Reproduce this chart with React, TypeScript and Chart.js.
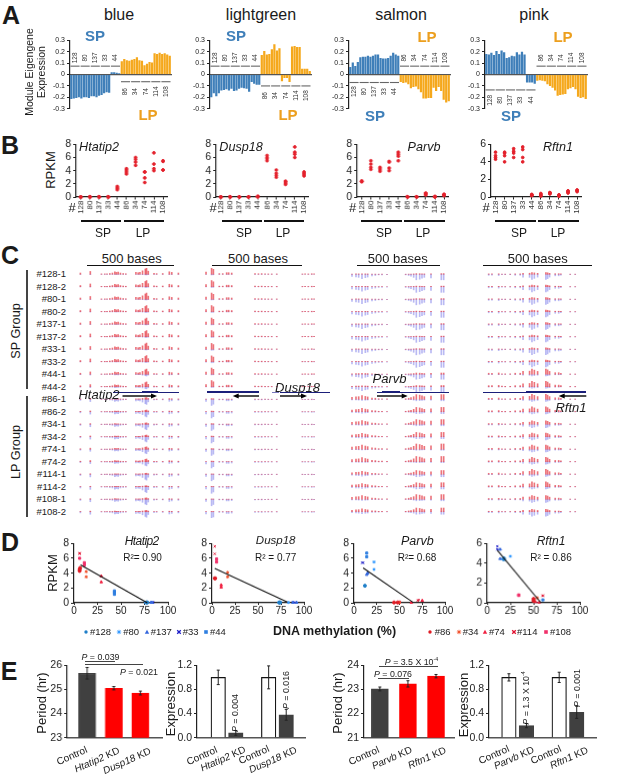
import React, { useEffect, useRef } from 'react';
import { Chart, registerables } from 'chart.js';
Chart.register(...registerables);

const FF = '"Liberation Sans", Arial, sans-serif';
const INK = '#222';
const SP_BLUE = '#3f7fb9';
const LP_ORANGE = '#f5a81c';

// ---------- Panel A ----------
const blueSP = [-.215,-.21,-.205,-.2,-.21,-.2,-.2,-.205,-.19,-.19,-.2,-.185,-.18,-.165,-.155,-.16,.02,.02,.015,.01];
const blueLP = [.115,.135,.125,.12,.13,.135,.15,.125,.12,.08,.095,.11,.105,.185,.18,.19,.18,.185,.175,.165];
const greenSP = [-.2,-.165,-.19,-.165,-.14,-.135,-.13,-.14,-.125,-.145,-.14,-.125,-.115,-.12,-.125,-.15,-.065,-.08,-.09,-.09];
const greenLP = [.17,.205,.175,.18,.22,.265,.21,.23,-.06,-.03,-.03,-.065,.245,.25,.24,.24,.05,.05,.05,.03];
const salmonSP = [.065,.105,.075,.11,.15,.155,.155,.165,.155,.165,.175,.175,.145,.14,.14,.145,.165,.19,.175,.165];
const salmonLP = [-.065,-.075,-.07,-.085,-.12,-.11,-.105,-.13,-.155,-.21,-.21,-.205,-.205,-.115,-.145,-.11,-.145,-.22,-.245,-.235];
const pinkSP = [.18,.175,.19,.17,.205,.18,.21,.195,.145,.15,.165,.16,.195,.175,.2,.175,-.07,-.07,-.07,-.08];
const pinkLP = [-.055,-.05,-.055,-.06,-.085,-.1,-.115,-.14,-.185,-.18,-.175,-.17,-.13,-.12,-.11,-.13,-.195,-.205,-.2,-.215];
const spMice = ['128','80','137','33','44'];
const lpMice = ['86','34','74','114','108'];
const allMice = [...spMice, ...lpMice];

// ---------- Panel B (RPKM per mouse) ----------
const rpkmHtatip2 = [[0,0,0,0],[0,.05,0,0],[0,.05,0,0],[0,0,.05,0],[1.1,1.3,1.4,1.6],[3.5,3.8,4.1,4.3],[4.8,5.3,5.7,6],[2.2,2.9,3.8,3.8],[4,4.3,5,6.7],[4.1,4.1,5.4,5.5]];
const rpkmDusp18 = [[0,0,0,0],[0,.05,0,0],[0,0,.05,0],[0,0,.05,0],[0,.05,.1,.1],[5.5,5.8,6,6.3],[3,3.3,3.6,4.1],[1.9,2.1,2.3,2.4],[6,6.5,6.8,7.6],[3.2,3.4,3.6,3.8]];
const rpkmParvb = [[2.3,2.4,2.4,2.4],[4.2,4.5,5,5.5],[3.9,4.1,4.3,4.5],[4,4.4,5.3,5.4],[5.5,6.2,6.5,6.8],[0,.05,.05,0],[0,.05,.05,0],[.3,.5,.5,.6],[.05,.05,.1,0],[.2,.3,.4,.4]];
const rpkmRftn1 = [[4.3,4.5,4.7,5.1],[4,4.7,5,5.1],[4.5,5,5.2,5.5],[4,4.5,5.4,5.7],[.15,.2,.25,.3],[.1,.2,.3,.4],[.35,.4,.5,.5],[.1,.15,.2,.25],[.45,.55,.65,.7],[.6,.7,.75,.8]];

// ---------- Panel C (CpG sites in bases, relative heights, fraction methylated per sample) ----------
const sampleLabels = ['#128-1','#128-2','#80-1','#80-2','#137-1','#137-2','#33-1','#33-2','#44-1','#44-2','#86-1','#86-2','#34-1','#34-2','#74-1','#74-2','#114-1','#114-2','#108-1','#108-2'];
const sitesHtatip2 = [-38,19,83,102,115,131,146,160,169,179,192,208,223,281,294,304,319,335,342,352,385,400,435,473,487,525];
const heightsHtatip2 = [.2,.45,.06,.06,.08,.12,.2,.4,.3,.35,.2,.12,.08,.3,.25,.3,.55,.85,1,.5,.15,.1,.12,.4,.3,.2];
const methylHtatip2 = [.9,.9,.9,.9,.9,.9,.9,.9,.75,.7,.25,.25,.2,.25,.35,.4,.15,.15,.2,.2];
const sitesDusp18 = [-35,-4,6,39,58,80,91,108,238,257,275,294,312,331,359,502,517,535,554,567];
const heightsDusp18 = [.35,1,.8,.1,.1,.25,.25,.2,.1,.08,.1,.08,.05,.05,.05,.05,.05,.05,.08,.05];
const methylDusp18 = [.9,.9,.9,.9,.9,.9,.85,.85,.9,.9,.1,.1,.1,.1,.1,.1,.05,.05,.05,.05];
const sitesParvb = [-30,-6,10,30,50,64,90,110,130,150,180,292,310,324,340,356,376,390,404,444,506,520];
const heightsParvb = [.35,.45,.5,.7,.55,.45,.25,.2,.1,.1,.06,.1,.2,.3,.5,.9,.8,.65,.5,.6,.9,.9];
const methylParvb = [.1,.1,.1,.1,.1,.1,.1,.1,.2,.2,.75,.7,.75,.7,.85,.85,.6,.65,.75,.6];
const sitesRftn1 = [25,40,71,86,101,124,147,170,183,213,224,235,250,288,296,305,331,347,357,400,423];
const heightsRftn1 = [.2,.2,.25,.1,.08,.08,.2,.2,.55,.6,1,.8,.55,1,.85,.55,.3,.3,.2,.05,.05];
const methylRftn1 = [.25,.25,.25,.25,.25,.25,.2,.25,.75,.8,.7,.7,.5,.55,.6,.65,.7,.7,.55,.35];

// ---------- Panel D (methylation %, RPKM pairs per mouse) ----------
const dHtatip2 = [[[77,.05],[78,.05]],[[76,.05],[77,.05]],[[82,.05],[83,.05]],[[83,.05],[84,.05],[83.5,.05]],[[43,1.15],[43,1.4],[43,1.6]],[[6,4.3],[6,4.5],[6.5,4.7]],[[13,4.2],[13,3.5]],[[29,3.6],[29,2.8]],[[6,6.7],[6,6.6]],[[11,5.4],[11,5.1],[6,6]]];
const dDusp18 = [[[73,.05],[74,.05]],[[83,.05]],[[88,.05],[92,.05]],[[88,.05],[90,.05]],[[73,.05],[74,.05]],[[3,3.3],[3.5,3.3]],[[17,4.1],[17,3.5]],[[10,2.4],[10,2.1]],[[3,7.6],[3,6.6]],[[5,5.9],[5,5.5]]];
const dParvb = [[[12,2.3]],[[22,5.5],[22,4.5]],[[15,4],[14,3.8]],[[9,5.4],[10,5.4]],[[14,6.7],[14,6.2]],[[44,.05],[48,.05]],[[50,.05],[49,.05]],[[63,.05],[75,.3]],[[71,.4],[70,.3]],[[50,.1]]];
const dRftn1 = [[[18,4.5],[18,4.4]],[[25,4.7],[17,4.4]],[[14,5.4],[14,4.45]],[[11,5.7],[11,5.4]],[[60,.3]],[[50,.4],[50,.2]],[[54,.5],[50,.35]],[[56,.05],[52,.1]],[[60,.7],[60,.75]],[[34,.8],[34,.75]]];
const fitHtatip2 = [[7,5.1],[78,0]];
const fitDusp18 = [[3,4.65],[82,.1]];
const fitParvb = [[10,4.7],[65,.05]];
const fitRftn1 = [[11,5.3],[58,0]];
const miceColors = ['#1f7fc8','#3399ff','#3366dd','#1c1cc8','#2f7fe0','#e01b24','#f0502a','#f02040','#e0102f','#f0306a'];
const miceShapes = ['circle','star','triangle','crossRot','rect','circle','star','triangle','crossRot','rect'];

// ---------- Panel E ----------
const periodLabels = ['Control', 'KD1', 'KD2'];
const periodA = [25.67,25.05,24.85];
const periodAErr = [.24,.07,.08];
const periodB = [23.02,23.23,23.55];
const periodBErr = [.08,.13,.07];
const exprA = [1,.08,1,.38];
const exprAErr = [.12,.04,.19,.09];
const exprB = [1,.2,1,.42];
const exprBErr = [.06,.035,.085,.1];

const fontOf = (size: number) => ({ family: FF, size });

function axisY(min: number, max: number, step: number, size: number, fmt: (v: number) => string) {
  return {
    min, max,
    ticks: { stepSize: step, font: fontOf(size), color: INK, padding: 2, autoSkip: false, callback: (v: any) => fmt(Number(v)) },
    grid: { display: true, drawOnChartArea: false, drawTicks: true, tickLength: 3, color: INK },
    border: { display: true, color: INK, width: 1.2 },
  };
}

function ChartBox({ area, m, config }: any) {
  const ref = useRef<HTMLCanvasElement>(null);
  const [l, t, r, b] = area;
  const [mt, mr, mb, ml] = m;
  useEffect(() => {
    const cfg = config();
    cfg.options = cfg.options || {};
    cfg.options.responsive = false;
    cfg.options.animation = false;
    cfg.options.maintainAspectRatio = false;
    cfg.options.layout = { padding: { top: mt, right: mr, left: 0, bottom: 0 } };
    cfg.options.plugins = { legend: { display: false }, tooltip: { enabled: false } };
    cfg.options.scales.x.afterFit = (s: any) => { s.height = mb; };
    cfg.options.scales.y.afterFit = (s: any) => { s.width = ml; };
    const c = new Chart(ref.current as any, cfg);
    return () => c.destroy();
  }, []);
  const w = r - l + ml + mr;
  const h = b - t + mt + mb;
  return <canvas ref={ref} width={w} height={h} style={{ position: 'absolute', left: l - ml, top: t - mt, width: w, height: h }} />;
}

function T({ x, y, size, children, rot = 0, it, b, color, ls, end }: any) {
  return (
    <div style={{
      position: 'absolute', left: x, top: y,
      transform: `translate(${end ? '-100%' : '-50%'},-50%) rotate(${rot}deg)`,
      whiteSpace: 'nowrap', fontSize: size, lineHeight: 1, fontFamily: FF,
      fontStyle: it ? 'italic' : 'normal', fontWeight: b ? 700 : 400,
      color: color || '#1a1a1a', letterSpacing: ls || 0,
    }}>{children}</div>
  );
}

const HL = ({ x1, x2, y, h = 1.3, c = '#111' }: any) => (
  <div style={{ position: 'absolute', left: x1, top: y - h / 2, width: x2 - x1, height: h, background: c }} />
);
const VL = ({ x, y1, y2, w = 1.8, c = '#444' }: any) => (
  <div style={{ position: 'absolute', left: x - w / 2, top: y1, width: w, height: y2 - y1, background: c }} />
);

// Panel A chart
function moduleChart(sp: number[], lp: number[], spLine: number, spText: number, lpLine: number, lpText: number) {
  const vals = [...sp, ...lp];
  const marks = {
    id: 'groupMarks',
    afterDatasetsDraw(chart: any) {
      const { ctx, scales: { x, y } } = chart;
      const draw = (names: string[], off: number, lv: number, tv: number) => {
        names.forEach((name, k) => {
          const a = x.getPixelForValue(off + k * 4) - x.width / 80 + .5;
          const e = x.getPixelForValue(off + k * 4 + 3) + x.width / 80 - .5;
          ctx.save();
          ctx.strokeStyle = '#666';
          ctx.lineWidth = 1.1;
          ctx.beginPath();
          ctx.moveTo(a, y.getPixelForValue(lv));
          ctx.lineTo(e, y.getPixelForValue(lv));
          ctx.stroke();
          ctx.translate((a + e) / 2, y.getPixelForValue(tv));
          ctx.rotate(-Math.PI / 2);
          ctx.fillStyle = '#333';
          ctx.font = `6.5px ${FF}`;
          ctx.textAlign = 'center';
          ctx.textBaseline = 'middle';
          ctx.fillText(name, 0, 0);
          ctx.restore();
        });
      };
      draw(spMice, 0, spLine, spText);
      draw(lpMice, 20, lpLine, lpText);
    },
  };
  return () => ({
    type: 'bar',
    data: {
      labels: vals.map((_, i) => String(i)),
      datasets: [{
        data: vals,
        backgroundColor: vals.map((_, i) => (i < 20 ? SP_BLUE : LP_ORANGE)),
        barPercentage: .88, categoryPercentage: 1,
      }],
    },
    options: {
      scales: {
        x: {
          position: { y: 0 },
          ticks: { display: false },
          grid: { display: false },
          border: { display: true, color: '#555', width: 1.3 },
        },
        y: axisY(-.3, .3, .1, 7, v => (Math.abs(v) < 1e-6 ? '0' : v.toFixed(1))),
      },
    },
    plugins: [marks],
  });
}

// Panel B chart
function rpkmChart(rows: number[][], max: number) {
  return () => ({
    type: 'scatter',
    data: {
      datasets: [{
        data: rows.flatMap((vals, i) => vals.map(v => ({ x: allMice[i], y: v }))),
        backgroundColor: '#e3202b', borderColor: '#e3202b', pointRadius: 1.35, clip: false,
      }],
    },
    options: {
      scales: {
        x: {
          type: 'category', labels: allMice, offset: true,
          ticks: { font: fontOf(8), color: '#333', maxRotation: 90, minRotation: 90, autoSkip: false, padding: 1 },
          grid: { display: true, drawOnChartArea: false, drawTicks: true, tickLength: 2.5, color: INK, offset: false },
          border: { display: true, color: INK, width: 1.2 },
        },
        y: axisY(0, max, 2, 10.5, v => String(v)),
      },
    },
  });
}

// Panel C chart
function trackChart(sites: number[], heights: number[], methyl: number[], xMin: number, xMax: number) {
  const up: any[] = [];
  const down: any[] = [];
  methyl.forEach((frac, row) => {
    sites.forEach((s, i) => {
      up.push({ x: s, y: [row - heights[i] * frac * .55, row] });
      down.push({ x: s, y: [row, row + heights[i] * (1 - frac) * .55] });
    });
  });
  return () => ({
    type: 'bar',
    data: {
      datasets: [
        { data: up, backgroundColor: 'rgba(226,32,44,.62)', barThickness: 1, grouped: false, borderWidth: 0 },
        { data: down, backgroundColor: 'rgba(88,88,226,.42)', barThickness: 1, grouped: false, borderWidth: 0 },
      ],
    },
    options: {
      scales: {
        x: { type: 'linear', min: xMin, max: xMax, display: false, offset: false, grid: { offset: false } },
        y: { type: 'linear', min: -.5, max: 19.5, reverse: true, display: false },
      },
    },
  });
}

// Panel D chart
function methChart(groups: number[][][], fit: number[][], max: number) {
  const xy = (p: number[]) => ({ x: p[0], y: p[1] });
  return () => ({
    type: 'scatter',
    data: {
      datasets: [
        { data: fit.map(xy), showLine: true, pointRadius: 0, borderColor: '#111', borderWidth: 1.1, clip: false },
        ...groups.map((g, i) => ({
          data: g.map(xy),
          pointStyle: miceShapes[i],
          pointRadius: 1.5,
          backgroundColor: miceColors[i],
          borderColor: miceColors[i],
          borderWidth: 1,
          clip: false,
        })),
      ],
    },
    options: {
      scales: {
        x: {
          type: 'linear', min: 0, max: 100,
          ticks: { stepSize: 25, font: fontOf(10), color: INK, padding: 0, autoSkip: false, maxRotation: 0 },
          grid: { display: true, drawOnChartArea: false, drawTicks: true, tickLength: 2, color: INK },
          border: { display: true, color: INK, width: 1.2 },
        },
        y: axisY(0, max, 2, 10.5, v => String(v)),
      },
    },
  });
}

// Panel E chart
function barChart(vals: number[], errs: number[], pos: number[], xMin: number, xMax: number, yMin: number, yMax: number, step: number, thick: number, fills: string[], strokes: string[], fmt: (v: number) => string) {
  const whisk = {
    id: 'errorWhiskers',
    afterDatasetsDraw(chart: any) {
      const { ctx, scales: { y } } = chart;
      const meta = chart.getDatasetMeta(0);
      ctx.save();
      ctx.strokeStyle = '#222';
      ctx.lineWidth = 1;
      vals.forEach((v, i) => {
        const px = meta.data[i].x;
        const a = y.getPixelForValue(v - errs[i]);
        const e = y.getPixelForValue(v + errs[i]);
        ctx.beginPath();
        ctx.moveTo(px, a); ctx.lineTo(px, e);
        ctx.moveTo(px - 1.5, a); ctx.lineTo(px + 1.5, a);
        ctx.moveTo(px - 1.5, e); ctx.lineTo(px + 1.5, e);
        ctx.stroke();
      });
      ctx.restore();
    },
  };
  return () => ({
    type: 'bar',
    data: {
      datasets: [{
        data: vals.map((v, i) => ({ x: pos[i], y: v })),
        backgroundColor: fills, borderColor: strokes, borderWidth: 1.2, barThickness: thick,
      }],
    },
    options: {
      scales: {
        x: {
          type: 'linear', min: xMin, max: xMax, offset: false,
          ticks: { display: false },
          grid: { display: false, offset: false },
          border: { display: true, color: '#555', width: 1.5 },
        },
        y: { ...axisY(yMin, yMax, step, 10.5, fmt), grace: 0 },
      },
    },
    plugins: [whisk],
  });
}

const str = (v: number) => String(v);
const dec = (v: number) => v.toFixed(1);
const DARK = '#404040';

function Marker({ x, y, shape, color }: any) {
  let el: any;
  if (shape === 'circle') el = <circle cx={5} cy={5} r={1.7} fill={color} />;
  else if (shape === 'rect') el = <rect x={3.2} y={3.2} width={3.6} height={3.6} fill={color} />;
  else if (shape === 'triangle') el = <path d="M5 2.8 L7.2 6.8 L2.8 6.8 Z" fill={color} />;
  else if (shape === 'star') el = <path d="M5 2.8V7.2M2.8 5H7.2M3.5 3.5L6.5 6.5M6.5 3.5L3.5 6.5" stroke={color} strokeWidth={.9} />;
  else el = <path d="M3.2 3.2L6.8 6.8M6.8 3.2L3.2 6.8" stroke={color} strokeWidth={1.3} />;
  return <svg width={10} height={10} style={{ position: 'absolute', left: x - 5, top: y - 5 }}>{el}</svg>;
}

const P = () => <i>P</i>;

function Arrow({ x1, x2, y }: any) {
  const dir = x2 > x1 ? 1 : -1;
  return (
    <>
      <line x1={x1} x2={x2 - dir * 3} y1={y} y2={y} stroke="#000" strokeWidth={1.4} />
      <path d={`M${x2} ${y} L${x2 - dir * 6} ${y - 2.6} L${x2 - dir * 6} ${y + 2.6} Z`} fill="#000" />
    </>
  );
}

export default function App() {
  const rowsY = sampleLabels.map((_, i) => 274.3 + i * 12.49);
  const legendBlue = [[86, 90, '#128'], [119.3, 123.3, '#80'], [146.7, 150.7, '#137'], [179.3, 182.7, '#33'], [206, 210, '#44']];
  const legendRed = [[430.3, 434.7, '#86'], [459.3, 462.7, '#34'], [485.3, 489, '#74'], [513.7, 517, '#114'], [546, 550, '#108']];
  const naVy = '#1b1f7a';
  return (
    <div style={{ position: 'absolute', left: 0, top: 0, width: 617, height: 776, background: '#fff', overflow: 'hidden' }}>
      {/* Panel letters */}
      <T x={11} y={15} size={25} b>A</T>
      <T x={10} y={145} size={25} b>B</T>
      <T x={10} y={255} size={25} b>C</T>
      <T x={10} y={542} size={25} b>D</T>
      <T x={9} y={671} size={25} b>E</T>

      {/* Panel A */}
      <ChartBox area={[70, 39.5, 171, 109]} m={[6, 4, 6, 22]} config={moduleChart(blueSP, blueLP, .073, .145, -.063, -.15)} />
      <ChartBox area={[210, 39.5, 311, 109]} m={[6, 4, 6, 22]} config={moduleChart(greenSP, greenLP, .073, .145, -.1, -.185)} />
      <ChartBox area={[349, 39.5, 450, 109]} m={[6, 4, 6, 22]} config={moduleChart(salmonSP, salmonLP, -.07, -.15, .073, .145)} />
      <ChartBox area={[485, 39.5, 587, 109]} m={[6, 4, 6, 22]} config={moduleChart(pinkSP, pinkLP, -.135, -.225, .073, .145)} />
      <T x={119} y={15} size={16}>blue</T>
      <T x={261} y={15} size={16}>lightgreen</T>
      <T x={401} y={15} size={16}>salmon</T>
      <T x={534} y={15} size={16}>pink</T>
      <T x={95} y={35} size={15} b color={SP_BLUE}>SP</T>
      <T x={148} y={114} size={15} b color="#ec9f1e">LP</T>
      <T x={236} y={35} size={15} b color={SP_BLUE}>SP</T>
      <T x={288} y={114} size={15} b color="#ec9f1e">LP</T>
      <T x={427} y={36} size={15} b color="#ec9f1e">LP</T>
      <T x={375} y={115} size={15} b color={SP_BLUE}>SP</T>
      <T x={563} y={36} size={15} b color="#ec9f1e">LP</T>
      <T x={511} y={115} size={15} b color={SP_BLUE}>SP</T>
      <T x={29} y={72} size={10.5} rot={-90}>Module Eigengene</T>
      <T x={41} y={72} size={10.5} rot={-90}>Expression</T>

      {/* Panel B */}
      <ChartBox area={[76.4, 143.7, 168, 197]} m={[8, 6, 24, 18]} config={rpkmChart(rpkmHtatip2, 8)} />
      <ChartBox area={[216, 143.7, 308.5, 197]} m={[8, 6, 24, 18]} config={rpkmChart(rpkmDusp18, 8)} />
      <ChartBox area={[357.4, 143.7, 449.3, 197]} m={[8, 6, 24, 18]} config={rpkmChart(rpkmParvb, 8)} />
      <ChartBox area={[491, 143.7, 582, 197]} m={[8, 6, 24, 18]} config={rpkmChart(rpkmRftn1, 6)} />
      <T x={50} y={170} size={13} rot={-90}>RPKM</T>
      <T x={99} y={147} size={12.6} it>Htatip2</T>
      <T x={241} y={147} size={12.6} it>Dusp18</T>
      <T x={424} y={147} size={12.6} it>Parvb</T>
      <T x={558} y={147} size={12.6} it>Rftn1</T>
      {[72, 213, 352.7, 486].map((x, i) => <T key={i} x={x} y={207} size={13}>#</T>)}
      <HL x1={81} x2={121} y={221} /><HL x1={124} x2={164} y={221} />
      <HL x1={222} x2={262} y={221} /><HL x1={264} x2={304} y={221} />
      <HL x1={361} x2={402} y={221} /><HL x1={404} x2={445} y={221} />
      <HL x1={495} x2={536} y={221} /><HL x1={538} x2={579} y={221} />
      <T x={103} y={233} size={12}>SP</T><T x={143} y={233} size={12}>LP</T>
      <T x={244} y={233} size={12}>SP</T><T x={283} y={233} size={12}>LP</T>
      <T x={384} y={233} size={12}>SP</T><T x={423} y={233} size={12}>LP</T>
      <T x={519} y={233} size={12}>SP</T><T x={558} y={233} size={12}>LP</T>

      {/* Panel C */}
      <ChartBox area={[75, 268, 185, 518]} m={[0, 0, 0, 0]} config={trackChart(sitesHtatip2, heightsHtatip2, methylHtatip2, -69, 563)} />
      <ChartBox area={[200, 268, 320, 518]} m={[0, 0, 0, 0]} config={trackChart(sitesDusp18, heightsDusp18, methylDusp18, -68.6, 600)} />
      <ChartBox area={[345, 268, 450, 518]} m={[0, 0, 0, 0]} config={trackChart(sitesParvb, heightsParvb, methylParvb, -72, 558)} />
      <ChartBox area={[480, 268, 600, 518]} m={[0, 0, 0, 0]} config={trackChart(sitesRftn1, heightsRftn1, methylRftn1, -15, 537)} />
      {sampleLabels.map((s, i) => <T key={s} x={66} y={rowsY[i]} size={9.5} end>{s}</T>)}
      <VL x={26.7} y1={270} y2={389} /><VL x={26.7} y1={396} y2={517} />
      <T x={16} y={331} size={12.7} rot={-90}>SP Group</T>
      <T x={16} y={452} size={12.7} rot={-90}>LP Group</T>
      <T x={131.7} y={258} size={13}>500 bases</T>
      <T x={258} y={258} size={13}>500 bases</T>
      <T x={397.7} y={258} size={13}>500 bases</T>
      <T x={537.7} y={258} size={13}>500 bases</T>
      <HL x1={87} x2={174} y={265.3} />
      <HL x1={212.3} x2={302} y={265.3} />
      <HL x1={357} x2={440.3} y={265.3} />
      <HL x1={483.3} x2={592} y={265.3} />
      <HL x1={113.3} x2={179} y={392} h={1} c={naVy} /><HL x1={141.7} x2={158} y={392} h={1.8} c={naVy} />
      <HL x1={207} x2={259} y={392} h={1.6} c={naVy} />
      <HL x1={272} x2={279} y={392} h={.8} c="#7a7ac0" />
      <HL x1={280} x2={330} y={392} h={1} c={naVy} />
      <HL x1={377} x2={448.7} y={392} h={1} c={naVy} /><HL x1={382} x2={400} y={392} h={1.8} c={naVy} />
      <HL x1={483} x2={586} y={392} h={1} c={naVy} /><HL x1={526} x2={586} y={392} h={1.6} c={naVy} />
      <svg width={617} height={776} style={{ position: 'absolute', left: 0, top: 0 }}>
        <Arrow x1={122.5} x2={157} y={396} />
        <Arrow x1={259} x2={232.7} y={396} />
        <Arrow x1={280} x2={307} y={396} />
        <Arrow x1={377} x2={407.7} y={396} />
        <Arrow x1={586.3} x2={558.7} y={396} />
      </svg>
      <T x={99} y={393.5} size={13} it>Htatip2</T>
      <T x={297.5} y={386.7} size={13} it>Dusp18</T>
      <T x={389.5} y={378} size={13} it>Parvb</T>
      <T x={571} y={406.7} size={13} it>Rftn1</T>

      {/* Panel D */}
      <ChartBox area={[74, 543.3, 168.3, 603]} m={[8, 12, 14, 20]} config={methChart(dHtatip2, fitHtatip2, 8)} />
      <ChartBox area={[212, 543.3, 304, 603]} m={[8, 12, 14, 20]} config={methChart(dDusp18, fitDusp18, 8)} />
      <ChartBox area={[353.7, 543.3, 445.3, 603]} m={[8, 12, 14, 20]} config={methChart(dParvb, fitParvb, 8)} />
      <ChartBox area={[487.3, 543.3, 580.3, 603]} m={[8, 12, 14, 20]} config={methChart(dRftn1, fitRftn1, 6)} />
      <T x={52.3} y={572.7} size={13} rot={-90}>RPKM</T>
      <T x={141.7} y={541} size={12} it ls={-.6}>Htatip2</T>
      <T x={275.7} y={541} size={11.5} it>Dusp18</T>
      <T x={417.3} y={541} size={12.5} it>Parvb</T>
      <T x={551} y={541} size={12} it>Rftn1</T>
      <T x={142.5} y={558.3} size={10}>R²= 0.90</T>
      <T x={275.7} y={558.3} size={10}>R² = 0.77</T>
      <T x={417} y={558.3} size={10}>R²= 0.68</T>
      <T x={551} y={558.3} size={10}>R² = 0.86</T>
      <T x={334.5} y={631} size={12.5} b>DNA methylation (%)</T>
      {legendBlue.map((e: any, i) => (
        <React.Fragment key={e[2]}>
          <Marker x={e[0]} y={632} shape={miceShapes[i]} color={miceColors[i]} />
          <div style={{ position: 'absolute', left: e[1], top: 632, transform: 'translateY(-50%)', fontFamily: FF, fontSize: 9.5, lineHeight: 1, color: '#1a1a1a' }}>{e[2]}</div>
        </React.Fragment>
      ))}
      {legendRed.map((e: any, i) => (
        <React.Fragment key={e[2]}>
          <Marker x={e[0]} y={632} shape={miceShapes[i + 5]} color={miceColors[i + 5]} />
          <div style={{ position: 'absolute', left: e[1], top: 632, transform: 'translateY(-50%)', fontFamily: FF, fontSize: 9.5, lineHeight: 1, color: '#1a1a1a' }}>{e[2]}</div>
        </React.Fragment>
      ))}

      {/* Panel E */}
      <ChartBox area={[66.7, 665, 161.7, 742.3]} m={[8, 4, 4, 20]} config={barChart(periodA, periodAErr, [1, 2, 3], .25, 3.81, 23, 26, 1, 17, [DARK, '#ff0000', '#ff0000'], [DARK, '#ff0000', '#ff0000'], str)} />
      <ChartBox area={[196.7, 665, 305, 742.3]} m={[8, 4, 4, 20]} config={barChart(exprA, exprAErr, [1, 2, 3.87, 4.87], -.21, 5.94, 0, 1.2, .4, 14.5, ['#fff', DARK, '#fff', DARK], ['#111', DARK, '#111', DARK], dec)} />
      <ChartBox area={[363.7, 665, 454.3, 742.3]} m={[8, 4, 4, 20]} config={barChart(periodB, periodBErr, [1, 2, 3], .435, 3.64, 21, 24, 1, 17, [DARK, '#ff0000', '#ff0000'], [DARK, '#ff0000', '#ff0000'], str)} />
      <ChartBox area={[488.7, 665, 596.3, 742.3]} m={[8, 4, 4, 20]} config={barChart(exprB, exprBErr, [1, 2, 3.87, 4.87], -.136, 5.97, 0, 1.2, .4, 14.5, ['#fff', DARK, '#fff', DARK], ['#111', DARK, '#111', DARK], dec)} />
      <T x={40.7} y={702.7} size={13} rot={-90}>Period (hr)</T>
      <T x={170} y={704} size={13} rot={-90}>Expression</T>
      <T x={337} y={703} size={13} rot={-90}>Period (hr)</T>
      <T x={462.7} y={705} size={13} rot={-90}>Expression</T>

      <T x={100.5} y={657} size={8.8}><P /> = 0.039</T>
      <HL x1={85} x2={115} y={661} h={1} c="#444" />
      <HL x1={85} x2={143.3} y={664.7} h={1} c="#444" />
      <T x={139} y={671.7} size={8.8}><P /> = 0.021</T>
      <T x={235} y={712.7} size={8.8} rot={-90}><P /> = 0.004</T>
      <T x={286} y={690} size={8.8} rot={-90}><P /> = 0.016</T>
      <T x={411.5} y={661.7} size={8.8}><P /> = 3.5 X 10<sup style={{ fontSize: '.6em', lineHeight: 0 }}>-4</sup></T>
      <HL x1={378.7} x2={437.7} y={666} h={1} c="#444" />
      <T x={393} y={673.7} size={8.8}><P /> = 0.076</T>
      <HL x1={378} x2={408.7} y={678.7} h={1} c="#444" />
      <T x={526} y={698.3} size={8.8} rot={-90}><P /> = 1.3 X 10<sup style={{ fontSize: '.6em', lineHeight: 0 }}>-4</sup></T>
      <T x={577} y={687.7} size={8.8} rot={-90}><P /> = 0.001</T>

      <T x={71.7} y={755.7} size={10} rot={-24}>{periodLabels[0]}</T>
      <T x={97} y={760} size={10} rot={-24}><i>Htatip2</i> KD</T>
      <T x={126.7} y={761} size={10} rot={-24}><i>Dusp18</i> KD</T>
      <T x={202} y={755.7} size={10} rot={-24}>Control</T>
      <T x={222.7} y={759} size={10} rot={-24}><i>Htatip2</i> KD</T>
      <T x={253.7} y={755} size={10} rot={-24}>Control</T>
      <T x={273.3} y={760} size={10} rot={-24}><i>Dusp18</i> KD</T>
      <T x={364.3} y={756.3} size={10} rot={-24}>{periodLabels[0]}</T>
      <T x={392.3} y={758} size={10} rot={-24}><i>Parvb</i> KD</T>
      <T x={427.3} y={758.3} size={10} rot={-24}><i>Rftn1</i> KD</T>
      <T x={494} y={755.3} size={10} rot={-24}>Control</T>
      <T x={514} y={758} size={10} rot={-24}><i>Parvb</i> KD</T>
      <T x={546.3} y={755.3} size={10} rot={-24}>Control</T>
      <T x={569} y={758} size={10} rot={-24}><i>Rftn1</i> KD</T>
    </div>
  );
}
